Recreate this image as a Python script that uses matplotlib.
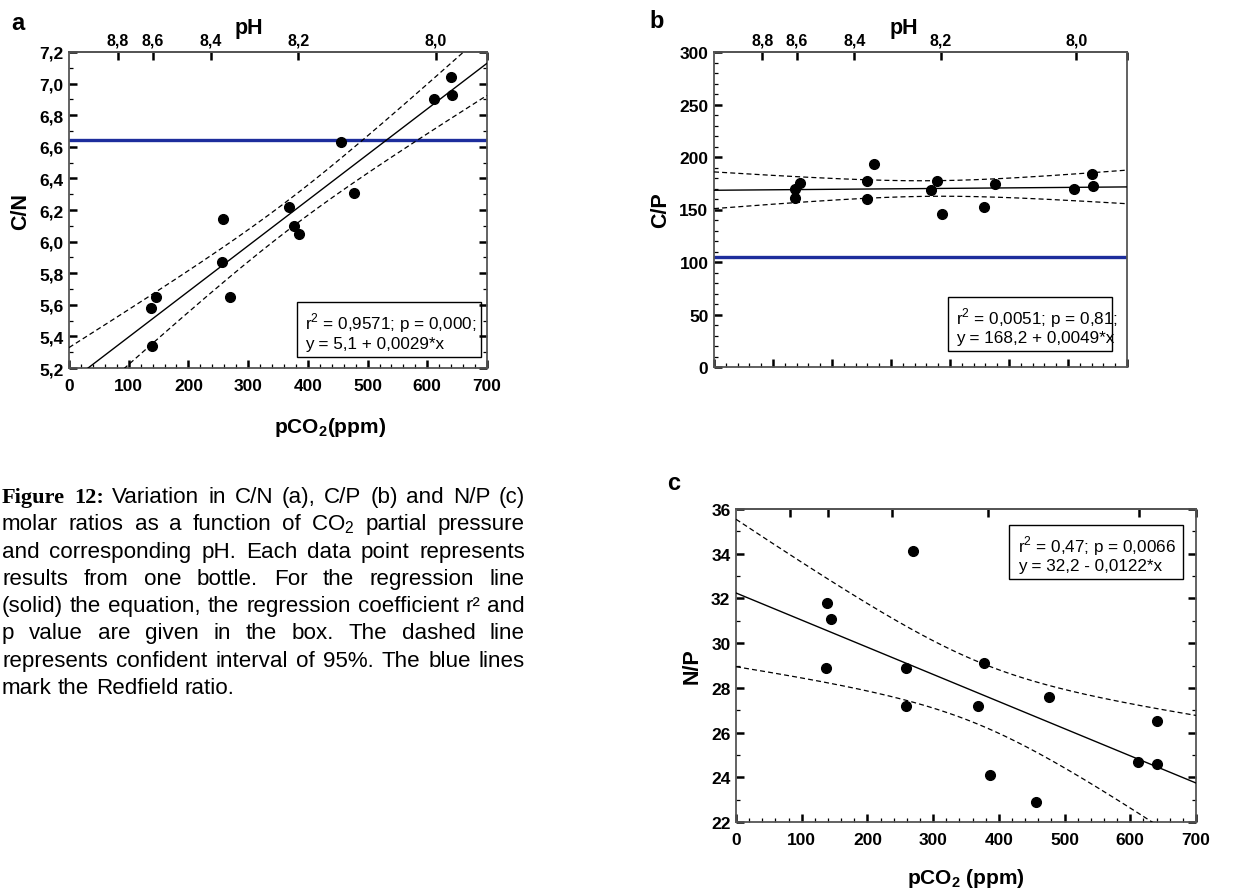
#!/usr/bin/env python
"""Figure 12: C/N, C/P and N/P molar ratios vs pCO2 (with pH on top axis)."""
import numpy as np
import matplotlib
matplotlib.use("Agg")
import matplotlib.pyplot as plt
from matplotlib.patches import Rectangle
from matplotlib.ticker import MultipleLocator, FuncFormatter, NullLocator

plt.rcParams.update({
    "font.family": "Liberation Sans",
    "mathtext.fontset": "custom",
    "mathtext.rm": "Liberation Sans",
    "mathtext.bf": "Liberation Sans:bold",
    "axes.linewidth": 1.3,
    "axes.edgecolor": "#555555",
})

# ---------------------------------------------------------------------------
# data
# ---------------------------------------------------------------------------
pco2_cn = [137, 145, 139, 258, 257, 270, 368, 377, 386, 456, 477, 611, 640, 641]
cn = [5.58, 5.65, 5.34, 6.14, 5.87, 5.65, 6.22, 6.10, 6.05, 6.63, 6.31, 6.90, 7.04, 6.93]

pco2_cp = [138, 145, 137, 259, 259, 271, 368, 378, 386, 457, 477, 611, 641, 642]
cp = [170, 175, 161, 177, 160, 193, 169, 177, 146, 152, 174, 170, 184, 172]

pco2_np = [139, 145, 137, 270, 258, 258, 378, 368, 386, 456, 477, 612, 640, 641]
n_p = [31.8, 31.1, 28.9, 34.1, 28.9, 27.2, 29.1, 27.2, 24.1, 22.9, 27.6, 24.7, 26.5, 24.6]

redfield_cn = 6.64
redfield_cp = 105

# pH scale on the top axis (pCO2 position of each pH tick)
ph_labels = ["8,8", "8,6", "8,4", "8,2", "8,0"]
ph_pos = [82, 140, 238, 384, 614]

box_cn = [r"r$^\mathrm{2}$ = 0,9571; p = 0,000;", "y = 5,1 + 0,0029*x"]
box_cp = [r"r$^\mathrm{2}$ = 0,0051; p = 0,81;", "y = 168,2 + 0,0049*x"]
box_np = [r"r$^\mathrm{2}$ = 0,47; p = 0,0066", "y = 32,2 - 0,0122*x"]

caption = [
    "Figure 12: Variation in C/N (a), C/P (b) and N/P (c)",
    r"molar ratios as a function of CO$_\mathrm{2}$ partial pressure",
    "and corresponding pH. Each data point represents",
    "results from one bottle. For the regression line",
    "(solid) the equation, the regression coefficient r\u00b2 and",
    "p value are given in the box. The dashed line",
    "represents confident interval of 95%. The blue lines",
    "mark the Redfield ratio.",
]

T95 = 2.179  # t(0.975, df = 12)
W, H = 1242, 895
BLUE = "#1d2d9c"

fig = plt.figure(figsize=(W / 100, H / 100), dpi=100)


def px_rect(x0, x1, y0, y1):
    """axes rect from pixel box (top-left origin)"""
    return [x0 / W, 1 - y1 / H, (x1 - x0) / W, (y1 - y0) / H]


comma = FuncFormatter(lambda v, p: f"{v:.1f}".replace(".", ","))
plain = FuncFormatter(lambda v, p: f"{v:.0f}")


def style_axes(ax, right=True, xlabels=True, top_labels=True):
    ax.set_xlim(0, 700)
    ax.xaxis.set_major_locator(MultipleLocator(100))
    ax.xaxis.set_minor_locator(MultipleLocator(20))
    ax.xaxis.set_major_formatter(plain)
    ax.tick_params(which="major", direction="in", length=6, width=1.8,
                   color="black", labelsize=12.5)
    ax.tick_params(axis="y", pad=4)
    ax.tick_params(axis="x", pad=7)
    ax.tick_params(which="minor", direction="in", length=3, width=0.9,
                   color="black")
    ax.tick_params(which="both", top=False, right=right)
    if not xlabels:
        ax.tick_params(axis="x", labelbottom=False)
    for lab in ax.get_xticklabels() + ax.get_yticklabels():
        lab.set_fontweight("bold")
    sec = ax.secondary_xaxis("top")
    sec.set_xticks(ph_pos + [700])
    sec.set_xticklabels((ph_labels if top_labels else [""] * len(ph_labels)) + [""],
                        fontweight="bold", fontsize=11.5)
    sec.xaxis.set_minor_locator(NullLocator())
    sec.tick_params(direction="in", length=6, width=1.8, color="black", pad=3)
    sec.spines["top"].set_color("#555555")
    sec.spines["top"].set_linewidth(1.3)
    return sec


def regression(ax, x, y):
    x = np.asarray(x, float)
    y = np.asarray(y, float)
    b, a = np.polyfit(x, y, 1)
    n = len(x)
    s = np.sqrt(np.sum((y - (a + b * x)) ** 2) / (n - 2))
    sxx = np.sum((x - x.mean()) ** 2)
    g = np.linspace(0, 700, 200)
    fit = a + b * g
    half = T95 * s * np.sqrt(1 / n + (g - x.mean()) ** 2 / sxx)
    ax.plot(g, fit, color="black", lw=1.0, zorder=3)
    for sgn in (-1, 1):
        ax.plot(g, fit + sgn * half, color="black", lw=0.9, dashes=(4, 2.5), zorder=3)


def stat_box(ax, lines, x0, x1, y0, y1):
    ax.add_patch(Rectangle((x0, y0), x1 - x0, y1 - y0, transform=ax.transAxes,
                           fill=False, edgecolor="black", lw=1.0, zorder=5))
    h = y1 - y0
    ax.text(x0 + 0.02, y0 + 0.63 * h, lines[0], transform=ax.transAxes,
            fontsize=12.3, va="center", ha="left", zorder=6)
    ax.text(x0 + 0.02, y0 + 0.25 * h, lines[1], transform=ax.transAxes,
            fontsize=12.3, va="center", ha="left", zorder=6)


LAB = 15.5

# ---------------------------------------------------------------------------
# (a) C/N
# ---------------------------------------------------------------------------
ax_a = fig.add_axes(px_rect(69, 487, 53, 369))
ax_a.set_ylim(5.2, 7.2)
ax_a.yaxis.set_major_locator(MultipleLocator(0.2))
ax_a.yaxis.set_minor_locator(MultipleLocator(0.1))
ax_a.yaxis.set_major_formatter(comma)
style_axes(ax_a)
regression(ax_a, pco2_cn, cn)
ax_a.axhline(redfield_cn, color=BLUE, lw=2.4, zorder=2)
ax_a.plot(pco2_cn, cn, "o", color="black", ms=7, zorder=4)
stat_box(ax_a, box_cn, 0.545, 0.986, 0.035, 0.209)
ax_a.set_ylabel("C/N", fontsize=LAB, fontweight="bold", labelpad=6)
ax_a.text(0.625, -0.185, r"pCO$_\mathbf{2}$(ppm)", transform=ax_a.transAxes,
          fontsize=LAB - 0.5, fontweight="bold", ha="center", va="center")
ax_a.text(0.43, 1.079, "pH", transform=ax_a.transAxes, fontsize=LAB,
          fontweight="bold", ha="center", va="center")
fig.text(18 / W, 1 - 23 / H, "a", fontsize=17, fontweight="bold", ha="center", va="center")

# ---------------------------------------------------------------------------
# (b) C/P
# ---------------------------------------------------------------------------
ax_b = fig.add_axes(px_rect(714, 1127, 53, 368))
ax_b.set_ylim(0, 300)
ax_b.yaxis.set_major_locator(MultipleLocator(50))
ax_b.yaxis.set_minor_locator(MultipleLocator(10))
ax_b.yaxis.set_major_formatter(plain)
style_axes(ax_b, right=False, xlabels=False)
regression(ax_b, pco2_cp, cp)
ax_b.axhline(redfield_cp, color=BLUE, lw=2.4, zorder=2)
ax_b.plot(pco2_cp, cp, "o", color="black", ms=7, zorder=4)
stat_box(ax_b, box_cp, 0.567, 0.964, 0.051, 0.222)
ax_b.set_ylabel("C/P", fontsize=LAB, fontweight="bold", labelpad=6)
ax_b.text(0.46, 1.079, "pH", transform=ax_b.transAxes, fontsize=LAB,
          fontweight="bold", ha="center", va="center")
fig.text(657 / W, 1 - 22 / H, "b", fontsize=17, fontweight="bold", ha="center", va="center")

# ---------------------------------------------------------------------------
# (c) N/P
# ---------------------------------------------------------------------------
ax_c = fig.add_axes(px_rect(736, 1196, 510, 823))
ax_c.set_ylim(22, 36)
ax_c.yaxis.set_major_locator(MultipleLocator(2))
ax_c.yaxis.set_minor_locator(MultipleLocator(1))
ax_c.yaxis.set_major_formatter(plain)
style_axes(ax_c, top_labels=False)
regression(ax_c, pco2_np, n_p)
ax_c.plot(pco2_np, n_p, "o", color="black", ms=7, zorder=4)
stat_box(ax_c, box_np, 0.593, 0.972, 0.777, 0.949)
ax_c.set_ylabel("N/P", fontsize=LAB, fontweight="bold", labelpad=6)
ax_c.set_xlabel(r"pCO$_\mathbf{2}$ (ppm)", fontsize=LAB - 0.5, fontweight="bold", labelpad=14)
fig.text(674 / W, 1 - 483 / H, "c", fontsize=17, fontweight="bold", ha="center", va="center")

# ---------------------------------------------------------------------------
# justified caption
# ---------------------------------------------------------------------------
fig.canvas.draw()
rend = fig.canvas.get_renderer()
sans = dict(family="Liberation Sans")
serif = dict(family="Liberation Serif", weight="bold")


def width(s, fs, props):
    t = fig.text(0, 0, s, fontsize=fs, **props)
    w = t.get_window_extent(renderer=rend).width
    t.remove()
    return w


def words_of(i, line):
    out = []
    for j, w in enumerate(line.split(" ")):
        out.append((w, serif if (i == 0 and j < 2) else sans))
    return out


cap_x0, cap_w = 2, 523
cap_y0, cap_dy = 503, 27.3
# pick the size so the tightest line fills the column
fs0 = 10
sp0 = width("a a", fs0, sans) - 2 * width("a", fs0, sans)
nat = []
for i, line in enumerate(caption[:-1]):
    ws = words_of(i, line)
    nat.append(sum(width(w, fs0, p) for w, p in ws) + (len(ws) - 1) * sp0)
cap_fs = fs0 * cap_w / max(nat) * 0.99
space = width("a a", cap_fs, sans) - 2 * width("a", cap_fs, sans)

for i, line in enumerate(caption):
    ws = words_of(i, line)
    wds = [width(w, cap_fs, p) for w, p in ws]
    last = i == len(caption) - 1
    gap = space if last else (cap_w - sum(wds)) / (len(ws) - 1)
    x = cap_x0
    y = cap_y0 + i * cap_dy
    for (w, p), wd in zip(ws, wds):
        fig.text(x / W, 1 - y / H, w, fontsize=cap_fs, va="baseline", ha="left", **p)
        x += wd + gap

fig.savefig("out.png", dpi=100)
